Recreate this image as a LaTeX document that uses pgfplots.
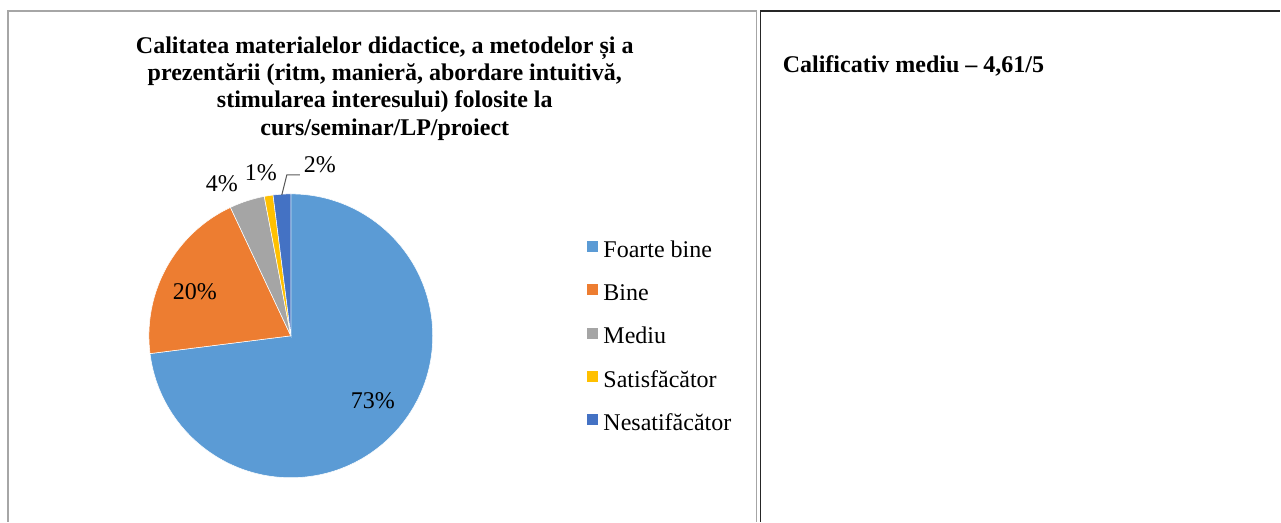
\documentclass[border=0pt]{standalone}
\usepackage{fontspec}
\setmainfont{Liberation Serif}
\usepackage{pgfplots}
\pgfplotsset{compat=1.18}
\definecolor{cFB}{HTML}{5B9BD5}
\definecolor{cB}{HTML}{ED7D31}
\definecolor{cM}{HTML}{A5A5A5}
\definecolor{cS}{HTML}{FFC000}
\definecolor{cN}{HTML}{4472C4}
\definecolor{bordergray}{HTML}{A6A6A6}
\begin{document}
\begin{tikzpicture}
\begin{axis}[
  width=960.75pt, height=391.5pt, scale only axis,
  xmin=0, xmax=1281, ymin=0, ymax=522,
  hide axis, clip=false,
  legend cell align=left,
  legend style={at={(axis cs:587,281)}, anchor=north west, draw=none, fill=none,
    inner sep=0pt, row sep=17.25pt, column sep=4.5pt,
    font=\fontsize{18}{21}\selectfont,
    nodes={inner sep=0pt, text height=12pt, text depth=3pt}},
]
\path (axis cs:0,0) rectangle (axis cs:1281,522);
% cell borders
\draw[bordergray, line width=1.1pt] (axis cs:8,0) -- (axis cs:8,511) -- (axis cs:757,511) -- (axis cs:757,0);
\draw[black!85, line width=1.1pt] (axis cs:761,0) -- (axis cs:761,511) -- (axis cs:1281,511);
% pie: values in percent, clockwise from 12 o'clock
\gdef\startang{90}
\foreach \v/\c in {73/cFB,20/cB,4/cM,1/cS,2/cN}{
  \pgfmathsetmacro\endang{\startang-3.6*\v}
  \pgfmathsetmacro\xa{291+142*cos(\startang)}
  \pgfmathsetmacro\ya{186+142*sin(\startang)}
  \edef\temp{\noexpand\fill[\c, draw=white, line width=0.4pt] (axis cs:291,186) -- (axis cs:\xa,\ya) arc[start angle=\startang, end angle=\endang, radius=106.5pt] -- cycle;}
  \temp
  \xdef\startang{\endang}
}
% data labels
\node[font=\fontsize{18}{21}\selectfont] at (axis cs:373,121) {73\%};
\node[font=\fontsize{18}{21}\selectfont] at (axis cs:195,230) {20\%};
\node[font=\fontsize{18}{21}\selectfont] at (axis cs:222,338) {4\%};
\node[font=\fontsize{18}{21}\selectfont] at (axis cs:261,349) {1\%};
\node[font=\fontsize{18}{21}\selectfont] at (axis cs:320,357) {2\%};
\draw[black!65, line width=0.75pt] (axis cs:282,327) -- (axis cs:287,347) -- (axis cs:300,347);
% title
\node[align=center, font=\fontsize{18}{20.6}\selectfont\bfseries] at (axis cs:385,433.5)
  {Calitatea materialelor didactice, a metodelor și a\\prezentării (ritm, manieră, abordare intuitivă,\\stimularea interesului) folosite la\\curs/seminar/LP/proiect};
\node[anchor=base west, inner sep=0pt, font=\fontsize{18}{21}\selectfont\bfseries] at (axis cs:783,449) {Calificativ mediu – 4,61/5};
% legend
\addlegendimage{legend image code/.code={\fill[cFB] (0pt,0pt) rectangle (7.5pt,7.5pt);}}
\addlegendentry{Foarte bine}
\addlegendimage{legend image code/.code={\fill[cB] (0pt,0pt) rectangle (7.5pt,7.5pt);}}
\addlegendentry{Bine}
\addlegendimage{legend image code/.code={\fill[cM] (0pt,0pt) rectangle (7.5pt,7.5pt);}}
\addlegendentry{Mediu}
\addlegendimage{legend image code/.code={\fill[cS] (0pt,0pt) rectangle (7.5pt,7.5pt);}}
\addlegendentry{Satisfăcător}
\addlegendimage{legend image code/.code={\fill[cN] (0pt,0pt) rectangle (7.5pt,7.5pt);}}
\addlegendentry{Nesatifăcător}
\end{axis}
\end{tikzpicture}
\end{document}
